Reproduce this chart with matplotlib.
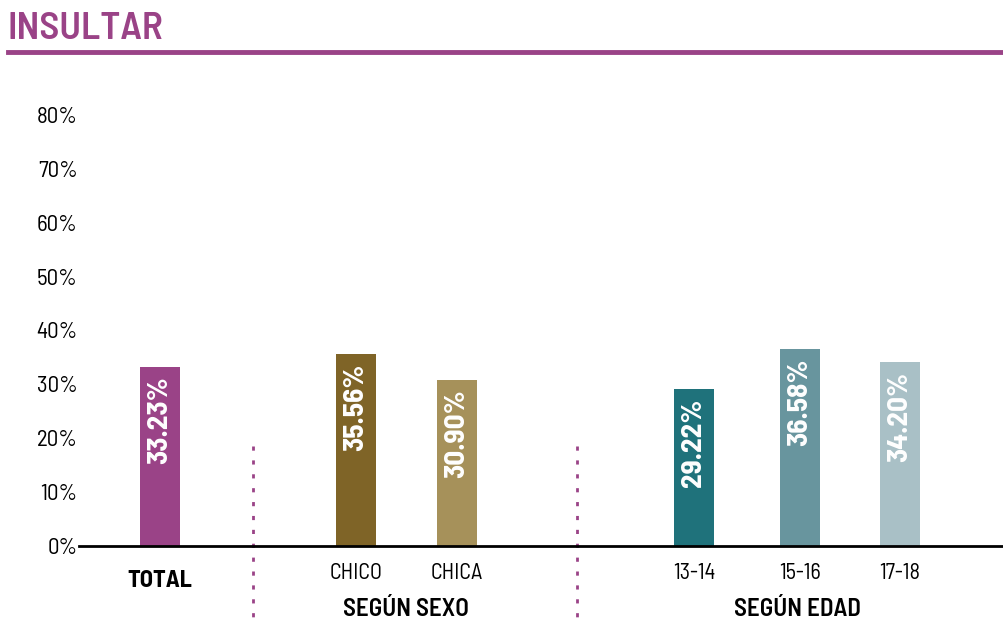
import matplotlib.pyplot as plt
from matplotlib.lines import Line2D

plt.rcParams['font.family'] = ['Barlow Semi Condensed', 'DejaVu Sans']

# percentages per group
categories = ["TOTAL", "CHICO", "CHICA", "13-14", "15-16", "17-18"]
values = [33.23, 35.56, 30.90, 29.22, 36.58, 34.20]
group_titles = ["SEGÚN SEXO", "SEGÚN EDAD"]
yticks = [0, 10, 20, 30, 40, 50, 60, 70, 80]

colors = ["#9a4387", "#7f6427", "#a6915a", "#1f727b", "#68959e", "#a9c0c6"]
purple = "#9a4387"
xpos = [0.81, 2.77, 3.78, 6.15, 7.21, 8.21]
separators = [1.74, 4.98]

fig = plt.figure(figsize=(10.04, 6.25), dpi=100)
ax = fig.add_axes([79 / 1004, 1 - 546 / 625, 1 - 79 / 1004, (546 - 115) / 625])

ax.bar(xpos, values, width=0.4, color=colors, zorder=2)
for x, v in zip(xpos, values):
    ax.text(x, v - 1.8, f"{v:.2f}%", rotation=90, ha="center", va="top",
            color="white", fontsize=21, fontweight="bold", zorder=3)

ax.set_xlim(0, 9.25)
ax.set_ylim(0, 80)
ax.set_yticks(yticks)
ax.set_yticklabels([f"{t}%" for t in yticks], fontsize=16.5)
ax.tick_params(axis="y", length=0, pad=1)
ax.set_xticks([])
for s in ["top", "right", "left"]:
    ax.spines[s].set_visible(False)
ax.spines["bottom"].set_linewidth(2)
ax.spines["bottom"].set_color("black")
ax.spines["bottom"].set_zorder(4)

# category labels under the axis
for i, (x, c) in enumerate(zip(xpos, categories)):
    ax.annotate(c, (x, 0), xytext=(0, -17 if i == 0 else -12),
                textcoords="offset points", ha="center", va="top",
                fontsize=16 if i else 17.5,
                fontweight="bold" if i == 0 else "normal",
                annotation_clip=False)

ax.text(3.27, -11.8, group_titles[0], ha="center", va="center",
        fontsize=18, fontweight="semibold")
ax.text(7.18, -11.8, group_titles[1], ha="center", va="center",
        fontsize=18, fontweight="semibold")

# dotted separators between groups
for sx in separators:
    ax.plot([sx, sx], [18.5, -14.5], color=purple, lw=2,
            linestyle=(0, (1.5, 3.5)), clip_on=False, zorder=1)

# title and rule
fig.text(8 / 1004, 1 - 29 / 625, "INSULTAR", color=purple, fontsize=28,
         fontweight="semibold", ha="left", va="center")
fig.add_artist(Line2D([8 / 1004, 1], [1 - 52 / 625] * 2, color=purple,
                      lw=3.5, transform=fig.transFigure))

fig.savefig("out.png", dpi=100)
